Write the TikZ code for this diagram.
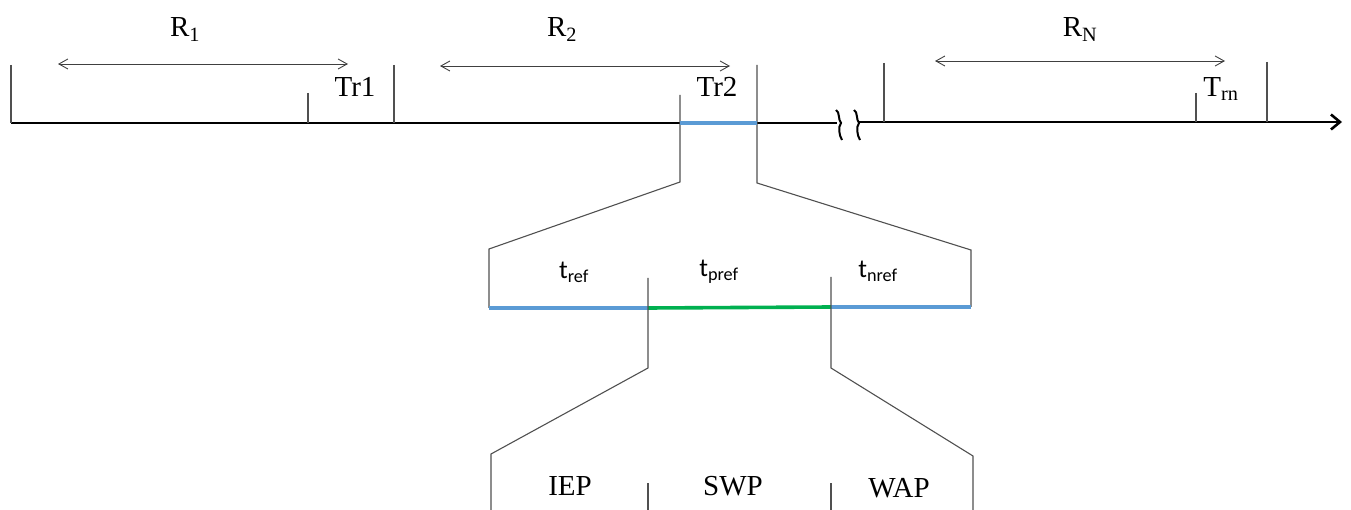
\documentclass[tikz,border=0pt]{standalone}
\usepackage{fontspec}
\setmainfont{Liberation Serif}
\newfontfamily\calfont{Carlito}
\usetikzlibrary{arrows.meta}
\definecolor{segblue}{RGB}{91,155,213}
\definecolor{seggreen}{RGB}{0,176,80}
\definecolor{thingray}{RGB}{80,80,80}
\begin{document}
\begin{tikzpicture}[x=1pt,y=-1pt,
  thinline/.style={draw=thingray,line width=1.1pt},
  axisline/.style={draw=black,line width=2.6pt},
  rangearrow/.style={draw=black!75,line width=0.9pt,{Straight Barb[length=9pt,width=10pt]}-{Straight Barb[length=9pt,width=10pt]}},
  lbl/.style={font=\fontsize{29}{31}\selectfont,anchor=base,inner sep=0pt},
  slbl/.style={font=\calfont\fontsize{26}{28}\selectfont,anchor=base,inner sep=0pt},
  brk/.style={draw=black,line width=2pt},
  blueseg/.style={draw=segblue,line width=3.4pt},
  greenseg/.style={draw=seggreen,line width=3.6pt}
]
\useasboundingbox (0,0) rectangle (1351,510);

% ---- key coordinates ----
\coordinate (a0) at (11,123);
\coordinate (a1) at (837,123);
\coordinate (b0) at (858,122);
\coordinate (b1) at (1342,122);

\coordinate (t1top) at (11,65);    \coordinate (t1bot) at (11,123);
\coordinate (s1top) at (308,93);   \coordinate (s1bot) at (308,123);
\coordinate (t2top) at (394,65);   \coordinate (t2bot) at (394,123);
\coordinate (s2top) at (680,95);   \coordinate (s2bot) at (680,182);
\coordinate (t3top) at (757,65);   \coordinate (t3bot) at (757,183);
\coordinate (t4top) at (884,63);   \coordinate (t4bot) at (884,122);
\coordinate (s4top) at (1196,93);  \coordinate (s4bot) at (1196,122);
\coordinate (t5top) at (1267,62);  \coordinate (t5bot) at (1267,122);

\coordinate (zl) at (680,123);
\coordinate (zr) at (757,123);

\coordinate (ml) at (489,249);  \coordinate (mlb) at (489,308);
\coordinate (mr) at (971,250);  \coordinate (mrb) at (971,307);
\coordinate (m1top) at (648,278); \coordinate (m1) at (648,308); \coordinate (m1bot) at (648,368);
\coordinate (m2top) at (831,277); \coordinate (m2) at (831,307); \coordinate (m2bot) at (831,368);

\coordinate (bl) at (491,454);  \coordinate (blb) at (491,510);
\coordinate (br) at (973,456);  \coordinate (brb) at (973,510);
\coordinate (bt1) at (648,483); \coordinate (bt1b) at (648,510);
\coordinate (bt2) at (831,483); \coordinate (bt2b) at (831,510);

\coordinate (r1a) at (58,64);   \coordinate (r1b) at (348,64);
\coordinate (r2a) at (440,66);  \coordinate (r2b) at (730,66);
\coordinate (rna) at (935,61);  \coordinate (rnb) at (1225,61);

% ---- main axis ----
\draw[axisline] (a0) -- (a1);
\draw[axisline,-{Straight Barb[length=9pt,width=15pt]}] (b0) -- (b1);

% break marks
\draw[brk] (836,110) .. controls (840,112) and (838,120) .. (841,123) .. controls (838,127) and (839,135) .. (842,140);
\draw[brk] (854,110) .. controls (858,112) and (856,120) .. (859,123) .. controls (856,127) and (857,135) .. (860,140);

% ticks on axis
\draw[thinline] (t1top) -- (t1bot);
\draw[thinline] (s1top) -- (s1bot);
\draw[thinline] (t2top) -- (t2bot);
\draw[thinline] (t4top) -- (t4bot);
\draw[thinline] (s4top) -- (s4bot);
\draw[thinline] (t5top) -- (t5bot);

% zoom from Tr2
\draw[thinline] (s2top) -- (s2bot) -- (ml) -- (mlb);
\draw[thinline] (t3top) -- (t3bot) -- (mr) -- (mrb);
\draw[blueseg] (zl) -- (zr);

% middle level
\draw[blueseg] (mlb) -- (m1);
\draw[greenseg] (m1) -- (m2);
\draw[blueseg] (m2) -- (mrb);
\draw[thinline] (m1top) -- (m1bot) -- (bl) -- (blb);
\draw[thinline] (m2top) -- (m2bot) -- (br) -- (brb);

% bottom level
\draw[thinline] (bt1) -- (bt1b);
\draw[thinline] (bt2) -- (bt2b);

% range arrows
\draw[rangearrow] (r1a) -- (r1b);
\draw[rangearrow] (r2a) -- (r2b);
\draw[rangearrow] (rna) -- (rnb);

% ---- labels ----
\node[lbl] (R1) at (185,37) {R\textsubscript{1}};
\node[lbl] (R2) at (562,37) {R\textsubscript{2}};
\node[lbl] (RN) at (1080,37) {R\textsubscript{N}};
\node[lbl] (Tr1) at (355,97) {Tr1};
\node[lbl] (Tr2) at (717,97) {Tr2};
\node[lbl] (Trn) at (1221,97) {T\textsubscript{rn}};

\node[slbl] (tref) at (574,279) {t\textsubscript{ref}};
\node[slbl] (tpref) at (719,277) {t\textsubscript{pref}};
\node[slbl] (tnref) at (878,278) {t\textsubscript{nref}};

\node[lbl] (IEP) at (570,495) {IEP};
\node[lbl] (SWP) at (733,495) {SWP};
\node[lbl] (WAP) at (899,497) {WAP};
\end{tikzpicture}
\end{document}
